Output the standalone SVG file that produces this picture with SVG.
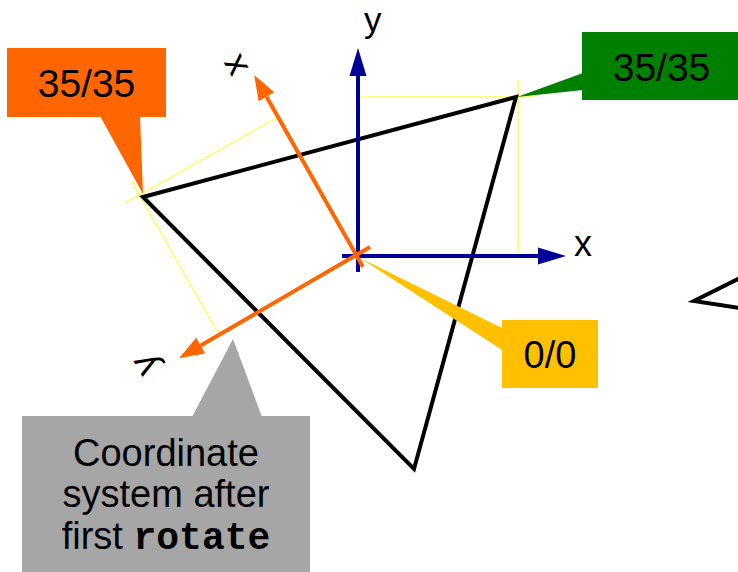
<svg xmlns="http://www.w3.org/2000/svg" width="738" height="572" viewBox="0 0 738 572">
  <style>
    .lbl { font-family: "Liberation Sans", Arial, sans-serif; font-size: 38px; fill: #000; }
    .mono { font-family: "Liberation Mono", "Courier New", monospace; font-weight: bold; }
    .guide { stroke: #FFFF00; stroke-width: 1; fill: none; }
    .blue { stroke: #000099; stroke-width: 4; fill: none; }
    .orange { stroke: #FF6600; stroke-width: 4; fill: none; }
    .tri { stroke: #000; stroke-width: 4; fill: none; stroke-linejoin: miter; }
  </style>
  <defs>
    <marker id="ab" markerUnits="userSpaceOnUse" markerWidth="30" markerHeight="20" refX="0" refY="9" orient="auto" overflow="visible">
      <path d="M0,0.5 L28,9 L0,17.5 Z" fill="#000099"/>
    </marker>
    <marker id="ao" markerUnits="userSpaceOnUse" markerWidth="30" markerHeight="20" refX="0" refY="9" orient="auto" overflow="visible">
      <path d="M0,0 L25,9 L0,18 Z" fill="#FF6600"/>
    </marker>
  </defs>
  <rect width="738" height="572" fill="#fff"/>

  <g id="guides">
    <line class="guide" x1="358" y1="97" x2="533" y2="97"/>
    <line class="guide" x1="518" y1="80" x2="518" y2="256"/>
    <line class="guide" x1="125" y1="203" x2="278" y2="117"/>
    <line class="guide" x1="132" y1="182" x2="218" y2="333"/>
  </g>

  <g id="triangle">
    <polygon class="tri" points="143,197 516,97 414,469"/>
  </g>
  <g id="triangle2">
    <polyline class="tri" points="740,278 694,301 740,308"/>
  </g>

  <g id="callout-origin">
    <polygon points="360,258 502,328 502,350" fill="#FFC000"/>
    <rect x="502" y="320" width="96" height="68" fill="#FFC000"/>
    <text class="lbl" x="550" y="368" text-anchor="middle">0/0</text>
  </g>

  <g id="connectors">
    <line class="blue" x1="358" y1="272" x2="358" y2="76" marker-end="url(#ab)"/>
    <line class="blue" x1="342" y1="256" x2="538" y2="256" marker-end="url(#ab)"/>
    <line class="orange" x1="363" y1="267" x2="266.5" y2="96.7" marker-end="url(#ao)"/>
    <line class="orange" x1="370" y1="247" x2="200.7" y2="345.6" marker-end="url(#ao)"/>
  </g>

  <g id="axis-labels">
    <text class="lbl" x="364" y="32" style="font-size:35px">y</text>
    <text class="lbl" x="574" y="256" style="font-size:36px">x</text>
    <text class="lbl" text-anchor="middle" transform="translate(236,65) rotate(-120)" x="0" y="9.4" style="font-size:36px">x</text>
    <text class="lbl" text-anchor="middle" transform="translate(150,362) rotate(-120)" x="0" y="5.6" style="font-size:37px">y</text>
  </g>

  <g id="callout-orange">
    <polygon points="100,116 140,116 143,194" fill="#FF6600"/>
    <rect x="7" y="48" width="159" height="69" fill="#FF6600"/>
    <text class="lbl" x="86.5" y="97" text-anchor="middle" style="font-size:39px">35/35</text>
  </g>

  <g id="callout-green">
    <polygon points="517,97 583,73 583,90" fill="#008000"/>
    <rect x="582" y="32" width="160" height="68" fill="#008000"/>
    <text class="lbl" x="661.5" y="81" text-anchor="middle" style="font-size:39px">35/35</text>
  </g>

  <g id="callout-gray">
    <polygon points="192,417 262,417 233,339" fill="#A6A6A6"/>
    <rect x="22" y="416" width="288" height="160" fill="#A6A6A6"/>
    <text class="lbl" x="166" y="466" text-anchor="middle">Coordinate</text>
    <text class="lbl" x="166" y="507" text-anchor="middle">system after</text>
    <text class="lbl" x="166" y="549" text-anchor="middle">first <tspan class="mono">rotate</tspan></text>
  </g>
</svg>
